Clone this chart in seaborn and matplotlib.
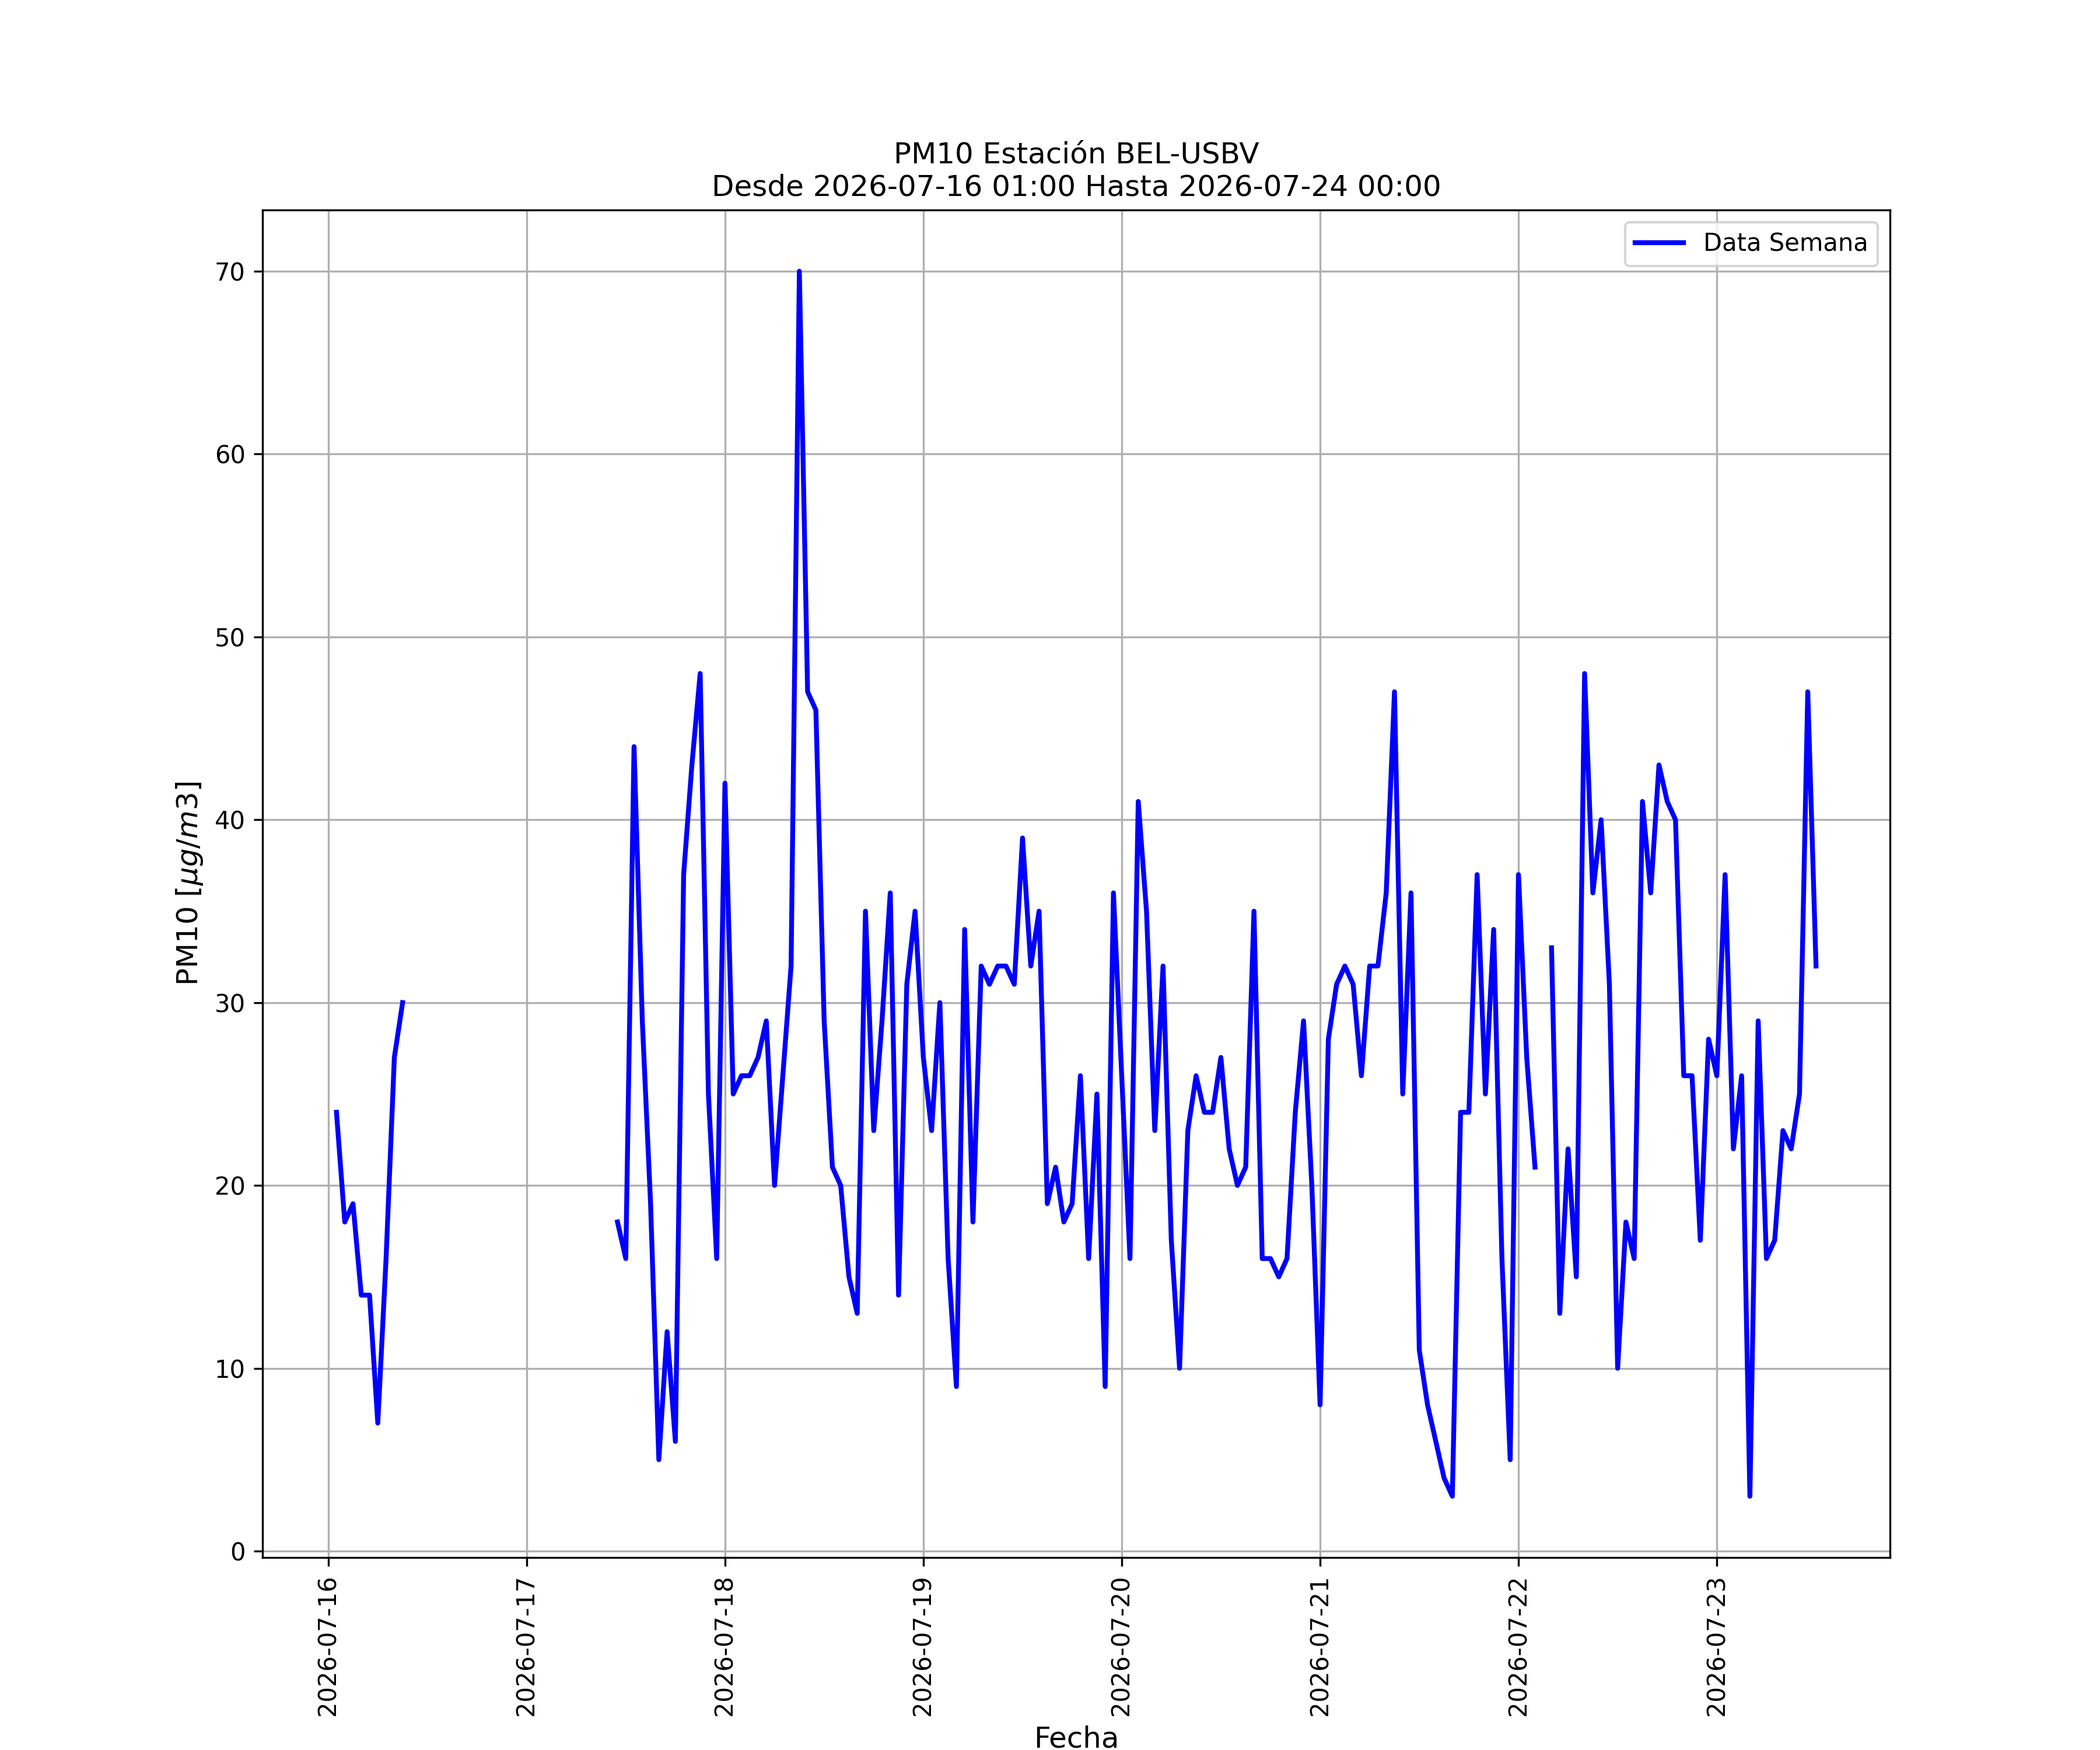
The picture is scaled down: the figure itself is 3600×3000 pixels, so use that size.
import numpy as np
import pandas as pd
import matplotlib
matplotlib.use("Agg")
import matplotlib.pyplot as plt
import matplotlib.dates as mdates
import seaborn as sns

# hourly PM10 readings, 2026-07-16 01:00 .. 2026-07-23 12:00 (None = no data)
day16 = [24, 18, 19, 14, 14, 7, 16, 27, 30] + [None] * 14
day17 = [None] * 11 + [18, 16, 44, 29, 19, 5, 12, 6, 37, 43, 48, 25, 16]
day18 = [42, 25, 26, 26, 27, 29, 20, 26, 32, 70, 47, 46,
         29, 21, 20, 15, 13, 35, 23, 29, 36, 14, 31, 35]
day19 = [27, 23, 30, 16, 9, 34, 18, 32, 31, 32, 32, 31,
         39, 32, 35, 19, 21, 18, 19, 26, 16, 25, 9, 36]
day20 = [26, 16, 41, 35, 23, 32, 17, 10, 23, 26, 24, 24,
         27, 22, 20, 21, 35, 16, 16, 15, 16, 24, 29, 20]
day21 = [8, 28, 31, 32, 31, 26, 32, 32, 36, 47, 25, 36,
         11, 8, 6, 4, 3, 24, 24, 37, 25, 34, 16, 5]
day22 = [37, 27, 21, None, 33, 13, 22, 15, 48, 36, 40, 31,
         10, 18, 16, 41, 36, 43, 41, 40, 26, 26, 17, 28]
day23 = [26, 37, 22, 26, 3, 29, 16, 17, 23, 22, 25, 47, 32]

pm10 = day16 + day17 + day18 + day19 + day20 + day21 + day22 + day23
fechas = pd.date_range("2026-07-16 01:00", periods=len(pm10), freq="h")

df = pd.DataFrame({"Fecha": fechas, "PM10": pd.to_numeric(pd.Series(pm10), errors="coerce")})
# split into contiguous runs so gaps stay as gaps
df["tramo"] = df["PM10"].isna().cumsum()
df = df.dropna(subset=["PM10"])

fig, ax = plt.subplots(figsize=(12, 10), dpi=300)
sns.lineplot(data=df, x="Fecha", y="PM10", units="tramo", estimator=None,
             color="blue", linewidth=2, ax=ax)

ax.set_title("PM10 Estación BEL-USBV\nDesde 2026-07-16 01:00 Hasta 2026-07-24 00:00", fontsize=12)
ax.set_xlabel("Fecha", fontsize=12)
ax.set_ylabel(r"PM10 [$\mu g/m3$]", fontsize=12)
ax.xaxis.set_major_locator(mdates.DayLocator())
ax.xaxis.set_major_formatter(mdates.DateFormatter("%Y-%m-%d"))
plt.setp(ax.get_xticklabels(), rotation=90)
ax.grid(True)
ax.legend([ax.get_lines()[0]], ["Data Semana"], loc="upper right")

plt.savefig("out.png", dpi=300)
